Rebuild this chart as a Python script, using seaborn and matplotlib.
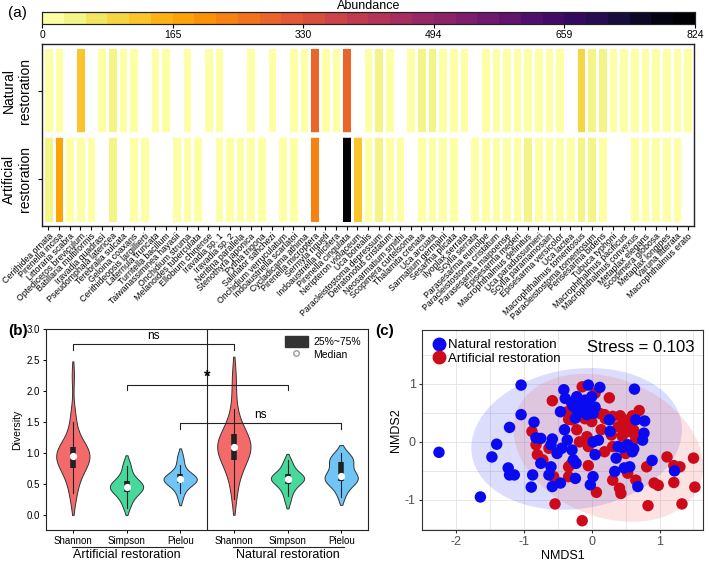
import numpy as np
import pandas as pd
import matplotlib
matplotlib.use("Agg")
import matplotlib.pyplot as plt
import matplotlib.transforms as mtransforms
from matplotlib.colors import ListedColormap
from matplotlib.patches import Ellipse, Patch
from matplotlib.lines import Line2D
import seaborn as sns

plt.rcParams['font.family'] = ['Liberation Sans', 'DejaVu Sans']
plt.rcParams['axes.unicode_minus'] = False

# ---------------- Panel (a) data ----------------
species = [
    "Cerithidea ornata", "Pirenella incisa", "Littoraria scabra", "Optediceros breviculum",
    "Batillaria multiformis", "Iravadia quadrasi", "Pseudomphala latericea", "Terebralia sulcata",
    "Geloina coaxans", "Cerithideopsis largillierti", "Laternula truncata", "Turritella bacillum",
    "Taiwanassiminea hayasii", "Onchidium struma", "Melanoides tuberculata", "Ellobium chinense",
    "Iravadia sp. 1", "Iravadia sp. 2", "Neritina parallela", "Stenothyra japonica",
    "Pythia trigona", "Salinator sanchezi", "Onchidium verruculatum", "Indoaustriella scarlatoi",
    "Cycladicama athima", "Pirenella microptera", "Sermyla riqueti", "Indoaustriella plicifera",
    "Pirenella cingulata", "Neripteron violaceum", "Uca borealis", "Paracleistostoma depressum",
    "Deiratonotus cristatum", "Neosarmatium smithi", "Scopimera curtelsoma", "Thalamita crenata",
    "Uca arcuata", "Sarmatium germaini", "Sesarma plicata", "Ilyoplax serrata",
    "Scylla serrata", "Parasesarma eumolpe", "Paracleistostoma cristatum", "Parasesarma maipoense",
    "Episesarma mederi", "Macrophthalmus definitus", "Uca paradussumieri", "Scylla paramamosain",
    "Episesarma versicolor", "Uca lactea", "Macrophthalmus tomentosus", "Paracleistostoma tomentosum",
    "Perisesarma bidens", "Tubuca typhoni", "Macrophthalmus pacificus", "Macrophthalmus convexus",
    "Metaplax elegans", "Scopimera globosa", "Metaplax longipes", "Varuna litterata",
    "Macrophthalmus erato",
]
N = np.nan
natural_abund = [10, 10, N, 115, N, 10, 50, 10, 10, N, 10, 10, N, 10, N, 10, 10, N, N, 10,
                 N, 10, N, 10, 10, 285, 10, 10, 280, N, 10, 50, 10, N, 10, 50, 50, 10, 10, 10,
                 N, 10, 10, 10, 10, 10, 10, 10, 10, N, 85, 50, 50, 10, 10, 10, 10, 10, 10, 10, 10]
artificial_abund = [50, 185, 10, 10, 10, N, 50, N, 10, 10, N, N, 10, 10, 10, N, 10, 10, 10, 10,
                    10, N, 10, 10, N, 235, N, N, 824, 115, 10, 50, 10, 10, N, 10, 10, 10, 10, N,
                    10, 10, 10, 10, 10, 50, 10, 10, 10, 10, 50, 50, 10, N, N, 10, 10, 10, 10, 10, N]
row_labels = ["Natural\nrestoration", "Artificial\nrestoration"]
cbar_max = 824

# ---------------- Panel (b) data ----------------
metrics = ["Shannon", "Simpson", "Pielou"]
groups = ["Artificial restoration", "Natural restoration"]
art_shannon = [0.22, 0.35, 0.48, 0.58, 0.65, 0.70, 0.74, 0.78, 0.82, 0.86, 0.89, 0.92, 0.94, 0.95,
               0.96, 0.98, 1.00, 1.02, 1.05, 1.08, 1.10, 1.15, 1.22, 1.35, 1.50, 1.66, 2.25]
art_simpson = [0.10, 0.18, 0.25, 0.30, 0.33, 0.36, 0.39, 0.41, 0.43, 0.44, 0.45, 0.46, 0.48, 0.50,
               0.52, 0.55, 0.58, 0.63, 0.70, 0.78, 0.85]
art_pielou = [0.25, 0.35, 0.42, 0.46, 0.49, 0.52, 0.54, 0.55, 0.56, 0.57, 0.58, 0.59, 0.60, 0.62,
              0.64, 0.67, 0.72, 0.80, 0.88, 0.97]
nat_shannon = [0.25, 0.45, 0.62, 0.72, 0.80, 0.83, 0.88, 0.95, 1.00, 1.03, 1.06, 1.08, 1.10, 1.12,
               1.15, 1.18, 1.22, 1.27, 1.31, 1.35, 1.42, 1.55, 1.70, 2.00, 2.30]
nat_simpson = [0.20, 0.30, 0.38, 0.43, 0.47, 0.51, 0.54, 0.56, 0.57, 0.58, 0.59, 0.60, 0.62, 0.64,
               0.66, 0.70, 0.76, 0.82, 0.88]
nat_pielou = [0.28, 0.40, 0.48, 0.52, 0.55, 0.57, 0.59, 0.61, 0.63, 0.66, 0.72, 0.80, 0.85, 0.88,
              0.90, 0.93, 1.00]
sig_labels = ["ns", "*", "ns"]
sig_heights = [2.75, 2.10, 1.48]

# ---------------- Panel (c) data ----------------
nat_x = [-2.25, -1.64, -1.04, -1.04, -1.21, -1.40, -1.47, -1.23, -1.21, -1.14, -0.85, -0.82, -0.87,
         -0.89, -0.75, -0.75, -0.58, -0.60, -0.60, -0.63, -0.58, -0.46, -0.51, -0.44, -0.46, -0.41,
         -0.39, -0.40, -0.36, -0.29, -0.27, -0.23, -0.24, -0.27, -0.24, -0.22, -0.17, -0.14, -0.10,
         -0.05, -0.02, 0.00, -0.07, 0.02, 0.12, 0.02, 0.10, 0.05, 0.02, -0.02, 0.26, 0.27, 0.39,
         0.36, 0.34, 0.48, 0.53, 0.56, 0.60, 0.63, 0.65, 0.75, 0.77, 0.78, 0.68, 0.89, 1.22,
         -0.12, -0.20, -0.05, 0.05, -0.30, 0.45, 0.62]
nat_y = [-0.18, -0.95, 0.98, 0.47, 0.25, -0.04, -0.26, -0.45, -0.57, -0.57, 0.34, 0.07, -0.57,
         -0.78, 0.06, -0.37, 0.05, -0.05, -0.43, -0.57, -0.77, -0.71, -0.20, -0.11, 0.52, 0.90,
         0.75, 0.21, 0.03, -0.14, -0.31, -0.37, -0.63, 0.61, 0.41, 0.78, 0.67, 0.55, 0.72, 0.98,
         0.61, 0.78, 0.47, 0.49, 0.94, 0.00, 0.03, -0.22, -0.60, -0.74, 0.38, 0.18, -0.08, -0.28,
         -0.51, -0.45, -0.05, -0.43, -0.17, 0.91, 0.38, 0.03, 0.15, 0.36, -0.77, -0.32, -0.50,
         0.62, 0.50, 0.70, 0.60, 0.68, -0.10, -0.12]
art_x = [-0.58, -0.14, 0.05, 0.26, -0.34, 0.12, 0.19, 0.31, 0.48, 0.60, 0.70, 0.48, 0.39, 0.56,
         0.65, 0.14, -0.07, -0.05, -0.88, -0.82, -0.80, -0.72, -0.63, -0.56, -0.54, -0.34, -0.14,
         -0.05, 0.07, 0.31, 0.31, 0.41, 0.43, 0.53, 0.65, 0.81, 0.83, 0.92, 0.98, 1.11, 1.21, 1.30,
         1.21, 1.33, 1.50, 1.52, -0.34, 0.29, 0.19, -0.22, -0.18, -0.29, 0.00, -0.36,
         0.45, 0.55, 0.62, 0.42, 0.50, 0.20, -0.10, -0.30]
art_y = [0.71, 0.95, 0.84, 0.76, 0.39, 0.49, 0.47, 0.44, 0.38, 0.45, 0.54, 0.24, 0.26, 0.18,
         0.06, 0.21, 0.09, -0.08, 0.18, -0.05, -0.22, -0.31, -0.11, -0.60, -1.07, -0.60, -1.36,
         -0.41, -0.87, -0.08, -0.66, -0.80, -0.89, -0.54, -0.66, -0.43, -1.10, -0.71, -0.75, -0.26,
         -0.41, -0.43, -0.70, -1.07, -0.28, -0.78, -0.43, 0.12, -0.17, 0.21, 0.00, 0.38, 0.35, 0.52,
         0.10, 0.30, 0.20, 0.45, -0.20, 0.40, 0.40, -0.38]
stress = 0.103

# ---------------- Figure ----------------
fig = plt.figure(figsize=(7.09, 5.62), dpi=100)
W, H = 709, 562

def ax_px(x0, y0, x1, y1):
    return fig.add_axes([x0 / W, 1 - y1 / H, (x1 - x0) / W, (y1 - y0) / H])

# ----- (a) heatmap -----
cax = ax_px(42, 12, 695, 24)
hax = ax_px(42, 44, 694, 226)
cmap = ListedColormap(plt.get_cmap("inferno_r")(np.linspace(0, 1, 30)))
hm = pd.DataFrame([natural_abund, artificial_abund], index=row_labels, columns=species)
cticks = np.linspace(0, cbar_max, 6)
sns.heatmap(hm, ax=hax, cmap=cmap, vmin=0, vmax=cbar_max, linewidths=1.0, linecolor="white",
            cbar_ax=cax, cbar_kws=dict(orientation="horizontal", ticks=cticks))
hax.axhline(1, color="white", lw=4)
hax.set_ylim(2.03, -0.03)
hax.set_xlim(-0.1, len(species) + 0.1)
for s in hax.spines.values():
    s.set_visible(True); s.set_color("#222222"); s.set_linewidth(1.0)
hax.set_xticks(np.arange(len(species)) + 0.5)
hax.set_xticklabels(species, rotation=45, ha="right", rotation_mode="anchor", fontsize=6.3)
hax.set_yticks([0.5, 1.5])
hax.set_yticklabels(row_labels, rotation=90, va="center", ha="center", multialignment="center", fontsize=10)
hax.tick_params(axis="y", pad=15, length=3)
hax.tick_params(axis="x", length=3, pad=1)
hax.set_xlabel(""); hax.set_ylabel("")
cax.set_xticklabels([f"{int(round(t))}" for t in cticks], fontsize=7.5)
cax.tick_params(length=3, pad=1.5)
cax.set_title("Abundance", fontsize=9, pad=1.5)
for s in cax.spines.values():
    s.set_visible(True); s.set_color("#222222"); s.set_linewidth(0.8)
fig.text(8 / W, 1 - 13 / H, "(a)", fontsize=11, va="center", ha="left")

# ----- (b) violins -----
bax = ax_px(46, 329, 368, 530)
vals = [art_shannon, art_simpson, art_pielou, nat_shannon, nat_simpson, nat_pielou]
pos_names = [f"{g}|{m}" for g in groups for m in metrics]
rows = []
for name, v in zip(pos_names, vals):
    for x in v:
        rows.append((name, name.split("|")[1], x))
vdf = pd.DataFrame(rows, columns=["pos", "metric", "value"])
pal = {"Shannon": "#F46A6A", "Simpson": "#46D99B", "Pielou": "#6EC5F6"}
sns.violinplot(data=vdf, x="pos", y="value", hue="metric", order=pos_names, hue_order=metrics,
               palette=pal, dodge=False, inner=None, density_norm="width", width=0.62, cut=1.2,
               bw_adjust=0.9, linewidth=0.7, linecolor="#333333", saturation=1, legend=False, ax=bax)
for i, v in enumerate(vals):
    a = np.asarray(v)
    q1, med, q3 = np.percentile(a, [25, 50, 75])
    iqr = q3 - q1
    lo = a[a >= q1 - 1.5 * iqr].min(); hi = a[a <= q3 + 1.5 * iqr].max()
    bax.plot([i, i], [lo, hi], color="#222222", lw=0.8, zorder=3)
    bax.plot([i, i], [q1, q3], color="#222222", lw=4.0, solid_capstyle="butt", zorder=4)
    bax.plot([i], [med], marker="o", ms=4.2, mfc="white", mec="white", zorder=5)
bax.axvline(2.5, color="#222222", lw=0.8)
pairs = [(0, 3), (1, 4), (2, 5)]
for (a_, b_), h, lab in zip(pairs, sig_heights, sig_labels):
    bax.plot([a_, a_, b_, b_], [h - 0.09, h, h, h - 0.09], color="#222222", lw=0.8)
    if lab == "*":
        bax.text((a_ + b_) / 2, h + 0.0, lab, ha="center", va="bottom", fontsize=12, fontweight="bold")
    else:
        bax.text((a_ + b_) / 2, h + 0.04, lab, ha="center", va="bottom", fontsize=8.5)
bax.set_xlim(-0.5, 5.5); bax.set_ylim(-0.25, 3.0)
bax.set_yticks(np.arange(0, 3.01, 0.5))
bax.set_yticklabels([f"{t:.1f}" for t in np.arange(0, 3.01, 0.5)], fontsize=7)
bax.set_xticks(range(6)); bax.set_xticklabels(metrics * 2, fontsize=7)
bax.tick_params(length=2.5, width=0.7, pad=2)
bax.set_xlabel(""); bax.set_ylabel("Diversity", fontsize=7.5, labelpad=3)
for s in bax.spines.values():
    s.set_color("#222222"); s.set_linewidth(0.8)
trans = mtransforms.blended_transform_factory(bax.transData, bax.transAxes)
for gi, g in enumerate(groups):
    x0, x1 = gi * 3 - 0.02, gi * 3 + 2.05
    bax.plot([x0, x1], [-0.085, -0.085], color="#222222", lw=0.8, transform=trans, clip_on=False)
    bax.text(gi * 3 + 1, -0.095, g, ha="center", va="top", fontsize=9, transform=trans)
leg_h = [Patch(facecolor="#333333", edgecolor="#333333"),
         Line2D([], [], marker="o", ls="", mfc="white", mec="#999999", ms=4)]
bax.legend(leg_h, ["25%~75%", "Median"], loc="upper right", frameon=False, fontsize=7.5,
           handlelength=2.2, handleheight=1.2, handletextpad=0.5, labelspacing=0.15,
           borderaxespad=0.3, bbox_to_anchor=(1.0, 1.0))
fig.text(8 / W, 1 - 331 / H, "(b)", fontsize=11, fontweight="bold", va="center", ha="left")

# ----- (c) NMDS -----
nax = ax_px(422, 330, 703, 530)
ndf = pd.DataFrame({
    "NMDS1": art_x + nat_x,
    "NMDS2": art_y + nat_y,
    "group": ["Artificial restoration"] * len(art_x) + ["Natural restoration"] * len(nat_x),
})
cols = {"Natural restoration": "#0A0AF0", "Artificial restoration": "#CC0A1A"}
fills = {"Natural restoration": "#5050F0", "Artificial restoration": "#F07070"}
ell_scale = 2.35
for g in ["Natural restoration", "Artificial restoration"]:
    sub = ndf[ndf.group == g]
    x = sub.NMDS1.values; y = sub.NMDS2.values
    cov = np.cov(x, y)
    ev, evec = np.linalg.eigh(cov)
    order = ev.argsort()[::-1]; ev = ev[order]; evec = evec[:, order]
    ang = np.degrees(np.arctan2(evec[1, 0], evec[0, 0]))
    e = Ellipse((x.mean(), y.mean()), 2 * ell_scale * np.sqrt(ev[0]), 2 * ell_scale * np.sqrt(ev[1]),
                angle=ang, facecolor=fills[g], alpha=0.2, edgecolor="none", zorder=1)
    nax.add_patch(e)
sns.scatterplot(data=ndf, x="NMDS1", y="NMDS2", hue="group", palette=cols, s=68, edgecolor="none",
                linewidth=0, legend=False, ax=nax, zorder=3)
nax.set_xlim(-2.43, 1.64); nax.set_ylim(-1.52, 1.93)
nax.set_xticks([-2, -1, 0, 1]); nax.set_yticks([-1, 0, 1])
nax.set_xticks(np.arange(-2.5, 1.7, 0.5), minor=True)
nax.set_yticks(np.arange(-1.5, 2.0, 0.5), minor=True)
nax.grid(True, which="both", color="#E3E3E3", lw=0.6, zorder=0)
nax.set_axisbelow(True)
nax.tick_params(which="major", length=2.5, color="#333333", labelsize=9, labelcolor="#4D4D4D", pad=2)
nax.tick_params(which="minor", length=0)
nax.set_xlabel("NMDS1", fontsize=9, labelpad=1)
nax.set_ylabel("NMDS2", fontsize=9, labelpad=2)
for s in nax.spines.values():
    s.set_color("#333333"); s.set_linewidth(0.8)
lh = [Line2D([], [], marker="o", ls="", color=cols["Natural restoration"], ms=9),
      Line2D([], [], marker="o", ls="", color=cols["Artificial restoration"], ms=9)]
nax.legend(lh, ["Natural restoration", "Artificial restoration"], loc="upper left", frameon=False,
           fontsize=9.5, handletextpad=0.05, labelspacing=0.1, borderaxespad=0.3, handlelength=1.2)
nax.text(0.97, 0.95, f"Stress = {stress}", transform=nax.transAxes, ha="right", va="top", fontsize=12)
fig.text(375 / W, 1 - 331 / H, "(c)", fontsize=11, fontweight="bold", va="center", ha="left")

fig.savefig("out.png", dpi=100)
